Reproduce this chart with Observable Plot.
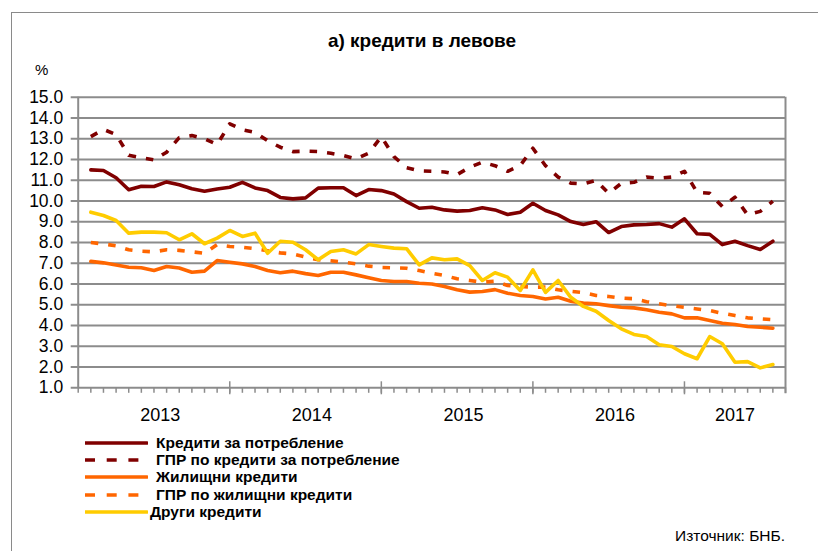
<!DOCTYPE html>
<html>
<head>
<meta charset="utf-8">
<script src="https://cdn.jsdelivr.net/npm/d3@7"></script>
<script src="https://cdn.jsdelivr.net/npm/@observablehq/plot@0.6"></script>
<style>
  html, body { margin: 0; padding: 0; background: #fff; overflow: hidden; }
  #wrap { position: relative; width: 818px; height: 551px; overflow: hidden;
          font-family: "Liberation Sans", Arial, sans-serif; color: #000; }
  #frame { position: absolute; left: 11px; top: 12px; width: 900px; height: 700px;
           border: 1px solid #8a8a8a; box-sizing: border-box; }
  #chart { position: absolute; left: 0; top: 0; }
  #title { position: absolute; left: 0; width: 844px; top: 30px; text-align: center;
           font-weight: bold; font-size: 19px; z-index: 2; }
  #unit { position: absolute; left: 35px; top: 61px; font-size: 15px; z-index: 2; }
  #legend { position: absolute; left: 85px; top: 434px; z-index: 2; }
  .row { display: flex; align-items: center; height: 17.35px; }
  .row svg { flex: none; }
  .row span { font-weight: bold; font-size: 15.5px; margin-left: 8px; white-space: nowrap; }
  #source { position: absolute; right: 33px; top: 527px; font-size: 15.5px; z-index: 2; }
</style>
</head>
<body>
<div id="wrap">
  <div id="frame"></div>
  <div id="chart"></div>
  <div id="title">а) кредити в левове</div>
  <div id="unit">%</div>
  <div id="legend"></div>
  <div id="source">Източник: БНБ.</div>
</div>
<script>
// ---- data ----
const months = [
  "2013-01","2013-02","2013-03","2013-04","2013-05","2013-06","2013-07","2013-08","2013-09","2013-10","2013-11","2013-12",
  "2014-01","2014-02","2014-03","2014-04","2014-05","2014-06","2014-07","2014-08","2014-09","2014-10","2014-11","2014-12",
  "2015-01","2015-02","2015-03","2015-04","2015-05","2015-06","2015-07","2015-08","2015-09","2015-10","2015-11","2015-12",
  "2016-01","2016-02","2016-03","2016-04","2016-05","2016-06","2016-07","2016-08","2016-09","2016-10","2016-11","2016-12",
  "2017-01","2017-02","2017-03","2017-04","2017-05","2017-06","2017-07"
];
const years = ["2013","2014","2015","2016","2017"];
const yTicks = [1,2,3,4,5,6,7,8,9,10,11,12,13,14,15];

const consumer = [11.50,11.47,11.12,10.54,10.71,10.70,10.92,10.78,10.59,10.47,10.58,10.66,
  10.90,10.63,10.50,10.17,10.10,10.15,10.62,10.64,10.64,10.26,10.55,10.50,
  10.34,9.97,9.65,9.70,9.57,9.51,9.54,9.67,9.57,9.35,9.46,9.89,
  9.54,9.33,9.01,8.87,9.00,8.48,8.77,8.85,8.87,8.91,8.74,9.14,
  8.42,8.39,7.90,8.06,7.85,7.66,8.06];
const consumerAPR = [13.10,13.45,13.20,12.20,12.08,11.98,12.35,13.05,13.15,13.00,12.72,13.72,
  13.43,13.30,12.90,12.59,12.38,12.40,12.38,12.30,12.19,12.03,12.30,13.10,
  12.14,11.60,11.45,11.43,11.40,11.27,11.63,11.87,11.70,11.43,11.71,12.54,
  11.70,11.15,10.86,10.82,10.99,10.37,10.85,10.90,11.15,11.10,11.15,11.43,
  10.42,10.37,9.73,10.18,9.33,9.50,9.99];
const housing = [7.09,7.02,6.92,6.81,6.78,6.65,6.84,6.77,6.57,6.62,7.13,7.05,
  6.97,6.84,6.65,6.54,6.62,6.50,6.41,6.57,6.57,6.44,6.30,6.17,
  6.12,6.12,6.04,6.00,5.88,5.72,5.61,5.64,5.73,5.56,5.45,5.40,
  5.28,5.36,5.17,5.08,5.05,4.96,4.88,4.85,4.76,4.64,4.56,4.37,
  4.37,4.24,4.11,4.05,3.95,3.92,3.87];
const housingAPR = [8.00,7.93,7.84,7.65,7.58,7.55,7.65,7.62,7.55,7.48,7.90,7.81,
  7.77,7.70,7.60,7.50,7.45,7.30,7.17,7.12,7.05,6.97,6.86,6.80,
  6.78,6.76,6.65,6.52,6.41,6.25,6.17,6.09,6.13,5.93,5.88,5.85,
  5.85,5.72,5.65,5.59,5.45,5.40,5.32,5.29,5.15,5.05,4.95,4.88,
  4.80,4.72,4.59,4.48,4.37,4.32,4.28];
const other = [9.46,9.30,9.06,8.45,8.50,8.50,8.47,8.13,8.42,7.94,8.21,8.58,
  8.29,8.45,7.48,8.06,8.01,7.65,7.17,7.57,7.65,7.45,7.90,7.81,
  7.73,7.70,6.92,7.26,7.17,7.21,6.89,6.17,6.54,6.33,5.69,6.68,
  5.60,6.17,5.36,4.92,4.69,4.24,3.84,3.57,3.47,3.07,2.99,2.64,
  2.40,3.47,3.12,2.23,2.26,1.96,2.12];

const seriesNames = ["Кредити за потребление","ГПР по кредити за потребление","Жилищни кредити","ГПР по жилищни кредити","Други кредити"];
const seriesValues = [consumer, consumerAPR, housing, housingAPR, other];

// ---- styles ----
const colors = ["#800000","#800000","#ff6600","#ff6600","#ffcc00"];
const dashed = [false, true, false, true, false];
const GRID = "#8c8c8c";

// ---- layout ----
const W = 818, H = 430;
const mL = 77.7, mR = 33, mT = 96.7, mB = H - 387.3;
const nSlots = months.length + 1;
const yMin = yTicks[0], yMax = yTicks[yTicks.length - 1];
const xUnit = (W - mL - mR) / nSlots;
const yUnit = (H - mT - mB) / (yMax - yMin);

const rows = [];
seriesValues.forEach((vals, s) => {
  vals.forEach((v, i) => rows.push({series: seriesNames[s], s, x: i + 1, v}));
});

const yearInfo = years.map(y => {
  const xs = months.map((m, i) => m.startsWith(y) ? i + 1 : null).filter(d => d !== null);
  return {year: y, first: d3.min(xs), last: d3.max(xs), center: (d3.min(xs) + d3.max(xs)) / 2};
});
const majorTicks = yearInfo.slice(1).map(d => d.first - 1);
const minorTicks = d3.range(0, nSlots + 1);

const lineMarks = seriesNames.map((name, s) => Plot.line(rows.filter(d => d.s === s), {
  x: "x", y: "v", stroke: colors[s], strokeWidth: 3.6,
  strokeLinejoin: "round",
  strokeLinecap: dashed[s] ? "butt" : "round",
  strokeDasharray: dashed[s] ? "7.5,10" : null
}));

const chart = Plot.plot({
  width: W, height: H,
  marginLeft: mL, marginRight: mR, marginTop: mT, marginBottom: mB,
  style: {fontFamily: "Liberation Sans, Arial, sans-serif", fontSize: "17.5px", color: "#000", background: "transparent", overflow: "visible"},
  x: {domain: [0, nSlots], axis: null},
  y: {domain: [yMin, yMax], axis: null},
  marks: [
    Plot.ruleY(yTicks, {x1: -7 / xUnit, x2: nSlots, stroke: GRID, strokeWidth: 2}),
    Plot.ruleX([0], {y1: yMin, y2: yMax, stroke: GRID, strokeWidth: 2}),
    Plot.ruleX([nSlots], {y1: yMin - 6 / yUnit, y2: yMax, stroke: GRID, strokeWidth: 2}),
    Plot.ruleX(minorTicks, {y1: yMin, y2: yMin - 5.5 / yUnit, stroke: GRID, strokeWidth: 1.5}),
    Plot.ruleX(majorTicks, {y1: yMin + 6 / yUnit, y2: yMin - 7 / yUnit, stroke: GRID, strokeWidth: 1.5}),
    ...lineMarks,
    Plot.axisY(yTicks, {anchor: "left", label: null, tickSize: 0, tickPadding: 15, tickFormat: d => d.toFixed(1), fontSize: 17.5}),
    Plot.text(yearInfo, {x: "center", text: "year", frameAnchor: "bottom", dy: 27, fontSize: 18, lineAnchor: "middle", fill: "#000"})
  ]
});
document.getElementById("chart").appendChild(chart);

// ---- legend ----
const legend = document.getElementById("legend");
seriesNames.forEach((name, s) => {
  const row = document.createElement("div");
  row.className = "row";
  const ns = "http://www.w3.org/2000/svg";
  const svg = document.createElementNS(ns, "svg");
  svg.setAttribute("width", 63); svg.setAttribute("height", 10);
  const ln = document.createElementNS(ns, "line");
  ln.setAttribute("x1", 0); ln.setAttribute("x2", 62); ln.setAttribute("y1", 5); ln.setAttribute("y2", 5);
  ln.setAttribute("stroke", colors[s]); ln.setAttribute("stroke-width", 3.6);
  if (dashed[s]) ln.setAttribute("stroke-dasharray", "10,11.7");
  else ln.setAttribute("stroke-linecap", "round");
  svg.appendChild(ln);
  const sp = document.createElement("span");
  sp.textContent = name;
  if (s === seriesNames.length - 1) sp.style.marginLeft = "2px";
  row.appendChild(svg); row.appendChild(sp);
  legend.appendChild(row);
});
</script>
</body>
</html>
